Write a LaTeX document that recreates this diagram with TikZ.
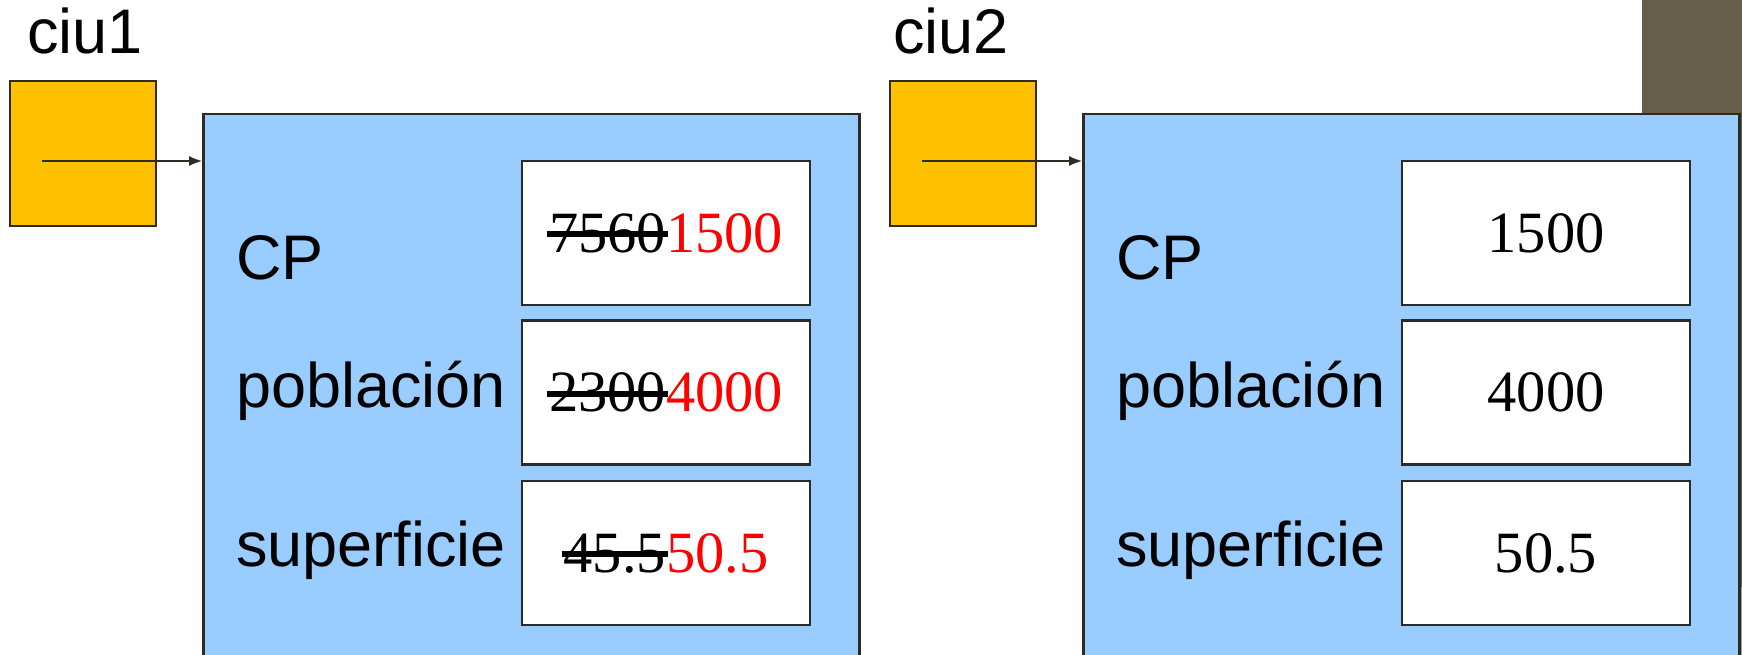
\documentclass[tikz,border=0pt]{standalone}
\usepackage{fontspec}
\setmainfont{Liberation Serif}
\setsansfont{Liberation Sans}
\usetikzlibrary{arrows.meta}

\definecolor{celeste}{HTML}{99CCFF}
\definecolor{ambar}{HTML}{FFC000}
\definecolor{borde}{HTML}{2E2B24}
\definecolor{pizarra}{HTML}{665E48}
\definecolor{arena}{HTML}{A9A184}

% old value struck through
\newcommand{\tachado}[1]{\setbox0\hbox{#1}\rlap{\kern-2pt\rule[15pt]{\dimexpr\wd0+4pt\relax}{6pt}}\box0}

\tikzset{
  ref/.style={draw=borde, line width=2.5pt, fill=ambar, minimum width=146pt, minimum height=145pt, inner sep=0pt},
  obj/.style={draw=borde, line width=2.5pt, fill=celeste, anchor=north west, minimum width=656pt, minimum height=600pt, inner sep=0pt},
  campo/.style={draw=borde, line width=2.5pt, fill=white, minimum width=288pt, minimum height=144pt, inner sep=0pt, font=\fontsize{58.5}{66}\selectfont},
  etiq/.style={anchor=base west, inner sep=0pt, font=\sffamily\fontsize{63}{72}\selectfont},
  ptr/.style={draw=borde, line width=1.3pt, -{Latex[length=13pt,width=10pt]}}
}

\begin{document}
\begin{tikzpicture}[x=1pt,y=-1pt]
\useasboundingbox (0,0) rectangle (1742,655);
\clip (0,0) rectangle (1742,655);

\fill[pizarra] (1642,0) rectangle (1742,587);
\fill[arena] (1738,587) rectangle (1742,655);

% the two references and the objects they point to
\foreach \n/\dx/\lx in {1/0/27, 2/880/893}
	{\node[etiq] (nom\n) at (\lx,54) {ciu\n};
	\node[ref] (ref\n) at (83+\dx,153.5) {};
	\node[obj] (obj\n) at (202+\dx,113) {};
	\coordinate (p\n) at (42+\dx,161);
	\draw[ptr] (p\n) -- (p\n -| obj\n.west);
	\node[etiq] (lcp\n) at (236+\dx,279) {CP};
	\node[etiq] (lpob\n) at (236+\dx,407) {población};
	\node[etiq] (lsup\n) at (236+\dx,566) {superficie};}

% fields of ciu1
\node[campo] (cp1) at (666,233) {\tachado{7560}\textcolor{red}{1500}};
\node[campo] (pob1) at (666,392.5) {\tachado{2300}\textcolor{red}{4000}};
\node[campo] (sup1) at (666,553) {\tachado{45.5}\textcolor{red}{50.5}};

% fields of ciu2
\node[campo] (cp2) at (1546,233) {1500};
\node[campo] (pob2) at (1546,392.5) {4000};
\node[campo] (sup2) at (1546,553) {50.5};

\end{tikzpicture}
\end{document}
